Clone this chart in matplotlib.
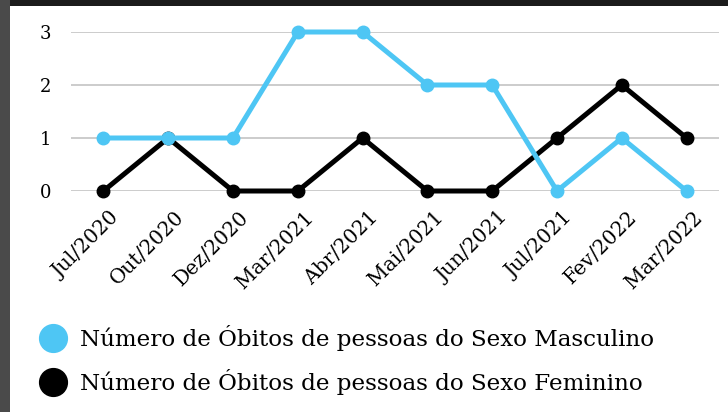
import matplotlib.pyplot as plt
import matplotlib.transforms as mtransforms
from matplotlib.lines import Line2D
from matplotlib.patches import Rectangle

months = ['Jul/2020', 'Out/2020', 'Dez/2020', 'Mar/2021', 'Abr/2021',
          'Mai/2021', 'Jun/2021', 'Jul/2021', 'Fev/2022', 'Mar/2022']
obitos_masculino = [1, 1, 1, 3, 3, 2, 2, 0, 1, 0]
obitos_feminino = [0, 1, 0, 0, 1, 0, 0, 1, 2, 1]
yticks = [0, 1, 2, 3]

label_masc = 'Número de Óbitos de pessoas do Sexo Masculino'
label_fem = 'Número de Óbitos de pessoas do Sexo Feminino'

BLUE = '#4ec6f4'
BLACK = '#000000'

plt.rcParams['font.family'] = ['DejaVu Serif']

fig = plt.figure(figsize=(7.28, 4.12), dpi=100)

# moldura escura do print (topo e lado esquerdo)
fig.patches.append(Rectangle((0, 412 - 6), 728, 6, transform=None,
                             facecolor='#1b1b1b', edgecolor='none', zorder=0))
fig.patches.append(Rectangle((0, 0), 10, 412, transform=None,
                             facecolor='#4a4a4a', edgecolor='none', zorder=0))

ax = fig.add_axes([71 / 728, (412 - 191) / 412, 648 / 728, 159 / 412])
x = list(range(len(months)))

ax.plot(x, obitos_feminino, color=BLACK, lw=3.6, marker='o', ms=9,
        clip_on=False, zorder=3, solid_joinstyle='round')
ax.plot(x, obitos_masculino, color=BLUE, lw=3.6, marker='o', ms=9,
        clip_on=False, zorder=4, solid_joinstyle='round')

ax.set_xlim(-0.5, len(months) - 0.5)
ax.set_ylim(0, 3)
ax.set_yticks(yticks)
ax.set_yticklabels([str(v) for v in yticks], fontsize=13)
ax.set_xticks(x)
ax.set_xticklabels(months, rotation=45, ha='right', rotation_mode='anchor',
                   fontsize=14.5)
ax.tick_params(length=0)
ax.tick_params(axis='y', pad=14)
ax.tick_params(axis='x', pad=12)
# desloca os rótulos do eixo x um pouco para a direita
offset = mtransforms.ScaledTranslation(6 / 100, 0, fig.dpi_scale_trans)
for lbl in ax.get_xticklabels():
    lbl.set_transform(lbl.get_transform() + offset)
ax.grid(axis='y', color='#cccccc', lw=1.4)
ax.set_axisbelow(True)
for s in ax.spines.values():
    s.set_visible(False)

handles = [
    Line2D([], [], ls='none', marker='o', ms=20, color=BLUE),
    Line2D([], [], ls='none', marker='o', ms=20, color=BLACK),
]
fig.legend(handles, [label_masc, label_fem], loc='center left',
           bbox_to_anchor=(30 / 728, 1 - 360 / 412), frameon=False,
           fontsize=16.6, handletextpad=0.65, labelspacing=0.8,
           handlelength=1.0, borderpad=0)

fig.savefig('out.png', dpi=100, facecolor='white')
